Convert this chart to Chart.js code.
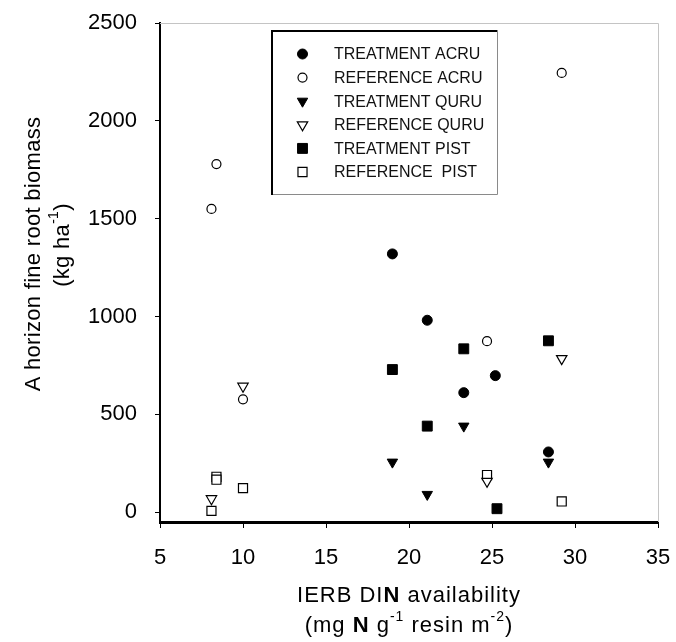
<!DOCTYPE html>
<html>
<head>
<meta charset="utf-8">
<script src="https://cdn.jsdelivr.net/npm/chart.js@4"></script>
<style>
  html, body { margin: 0; padding: 0; background: #fff; }
  #wrap { width: 676px; height: 642px; }
</style>
</head>
<body>
<div id="wrap"><canvas id="c" width="676" height="642"></canvas></div>
<script>
// ---- data: IERB DIN availability (x) vs A horizon fine root biomass (y) ----
const seriesLabels = [
  'TREATMENT ACRU', 'REFERENCE ACRU',
  'TREATMENT QURU', 'REFERENCE QURU',
  'TREATMENT PIST', 'REFERENCE  PIST'
];
const treatmentAcruX = [19.0, 21.1, 23.3, 25.2, 28.4];
const treatmentAcruY = [1320, 981, 611, 698, 308];
const referenceAcruX = [8.1, 8.4, 10.0, 24.7, 29.2];
const referenceAcruY = [1550, 1779, 577, 874, 2245];
const treatmentQuruX = [19.0, 21.1, 23.3, 28.4];
const treatmentQuruY = [256, 91, 440, 256];
const referenceQuruX = [8.1, 10.0, 24.7, 29.2];
const referenceQuruY = [69, 644, 158, 785];
const treatmentPistX = [19.0, 21.1, 23.3, 25.3, 28.4];
const treatmentPistY = [729, 440, 835, 18, 876];
const referencePistX = [8.1, 8.4, 8.4, 10.0, 24.7, 29.2];
const referencePistY = [7, 181, 166, 123, 190, 55];

const xTickValues = [5, 10, 15, 20, 25, 30, 35];
const yTickValues = [0, 500, 1000, 1500, 2000, 2500];

const FONT = 'Arial, "Liberation Sans", sans-serif';

function toPoints(xs, ys) { return xs.map((x, i) => ({ x: x, y: ys[i] })); }

// marker styles per series
const markerStyles = [
  { pointStyle: 'circle',   radius: 5,   rotation: 0,   fill: '#000', stroke: '#000', borderWidth: 1 },
  { pointStyle: 'circle',   radius: 4.5, rotation: 0,   fill: '#fff', stroke: '#000', borderWidth: 1.2 },
  { pointStyle: 'triangle', radius: 6,   rotation: 180, fill: '#000', stroke: '#000', borderWidth: 1 },
  { pointStyle: 'triangle', radius: 6,   rotation: 180, fill: '#fff', stroke: '#000', borderWidth: 1.2 },
  { pointStyle: 'rect',     radius: 7,   rotation: 0,   fill: '#000', stroke: '#000', borderWidth: 1 },
  { pointStyle: 'rect',     radius: 6.4, rotation: 0,   fill: '#fff', stroke: '#000', borderWidth: 1.2 }
];

const seriesData = [
  toPoints(treatmentAcruX, treatmentAcruY),
  toPoints(referenceAcruX, referenceAcruY),
  toPoints(treatmentQuruX, treatmentQuruY),
  toPoints(referenceQuruX, referenceQuruY),
  toPoints(treatmentPistX, treatmentPistY),
  toPoints(referencePistX, referencePistY)
];

const datasets = seriesData.map((d, i) => ({
  label: seriesLabels[i],
  data: d,
  showLine: false,
  pointStyle: markerStyles[i].pointStyle,
  pointRadius: markerStyles[i].radius,
  pointRotation: markerStyles[i].rotation,
  pointBackgroundColor: markerStyles[i].fill,
  pointBorderColor: markerStyles[i].stroke,
  pointBorderWidth: markerStyles[i].borderWidth,
  pointHoverRadius: markerStyles[i].radius
}));

// draw one marker shape (used for the legend box)
function drawMarker(ctx, m, x, y) {
  ctx.save();
  ctx.beginPath();
  const r = m.radius;
  if (m.pointStyle === 'circle') {
    ctx.arc(x, y, r, 0, Math.PI * 2);
  } else if (m.pointStyle === 'rect') {
    const s = Math.SQRT1_2 * r;
    ctx.rect(x - s, y - s, 2 * s, 2 * s);
  } else if (m.pointStyle === 'triangle') {
    let rad = m.rotation * Math.PI / 180;
    ctx.moveTo(x + Math.sin(rad) * r, y - Math.cos(rad) * r);
    rad += 2 * Math.PI / 3;
    ctx.lineTo(x + Math.sin(rad) * r, y - Math.cos(rad) * r);
    rad += 2 * Math.PI / 3;
    ctx.lineTo(x + Math.sin(rad) * r, y - Math.cos(rad) * r);
    ctx.closePath();
  }
  ctx.fillStyle = m.fill;
  ctx.strokeStyle = m.stroke;
  ctx.lineWidth = m.borderWidth;
  ctx.fill();
  ctx.stroke();
  ctx.restore();
}

// text made of runs (normal / bold / superscript), centred on (cx, cy)
function drawRuns(ctx, runs, cx, cy, size, spacing) {
  const fontFor = r => (r.bold ? 'bold ' : '') + (r.sup ? Math.round(size * 0.62) : size) + 'px ' + FONT;
  ctx.letterSpacing = (spacing || 0) + 'px';
  let total = 0;
  runs.forEach(r => { ctx.font = fontFor(r); r.w = ctx.measureText(r.t).width; total += r.w; });
  let x = cx - total / 2;
  ctx.textBaseline = 'middle';
  ctx.textAlign = 'left';
  runs.forEach(r => {
    ctx.font = fontFor(r);
    ctx.fillText(r.t, x, cy + (r.sup ? -size * 0.38 : 0));
    x += r.w;
  });
  ctx.letterSpacing = '0px';
}

const framePlugin = {
  id: 'frame',
  beforeDatasetsDraw(chart) {
    const a = chart.chartArea, ctx = chart.ctx;
    ctx.save();
    ctx.strokeStyle = '#c4c4c4';
    ctx.lineWidth = 1;
    ctx.beginPath();
    ctx.moveTo(a.left, a.top + 0.5);
    ctx.lineTo(a.right + 0.5, a.top + 0.5);
    ctx.lineTo(a.right + 0.5, a.bottom);
    ctx.stroke();
    ctx.restore();
  }
};

const titlesPlugin = {
  id: 'axisTitles',
  afterDraw(chart) {
    const ctx = chart.ctx;
    ctx.save();
    ctx.fillStyle = '#000';
    const cx = (chart.chartArea.left + chart.chartArea.right) / 2;
    drawRuns(ctx, [{ t: 'IERB DI' }, { t: 'N', bold: true }, { t: ' availability' }], cx, 596, 22, 1);
    drawRuns(ctx, [{ t: '(mg ' }, { t: 'N', bold: true }, { t: ' g' }, { t: '-1', sup: true },
                   { t: ' resin m' }, { t: '-2', sup: true }, { t: ')' }], cx, 626, 22, 1);
    ctx.save();
    ctx.translate(34, 254);
    ctx.rotate(-Math.PI / 2);
    drawRuns(ctx, [{ t: 'A horizon fine root biomass' }], 0, 0, 22, 0.3);
    ctx.restore();
    ctx.save();
    ctx.translate(63, 245);
    ctx.rotate(-Math.PI / 2);
    drawRuns(ctx, [{ t: '(kg ha' }, { t: '-1', sup: true }, { t: ')' }], 0, 0, 22, 0.3);
    ctx.restore();
    ctx.restore();
  }
};

const legendPlugin = {
  id: 'boxLegend',
  afterDraw(chart) {
    const ctx = chart.ctx;
    const L = 271, T = 30, R = 497, B = 194;
    ctx.save();
    ctx.fillStyle = '#fff';
    ctx.fillRect(L, T, R - L, B - T);
    ctx.lineWidth = 1;
    ctx.strokeStyle = '#8a8a8a';
    ctx.beginPath();
    ctx.moveTo(R + 0.5, T); ctx.lineTo(R + 0.5, B + 0.5); ctx.lineTo(L, B + 0.5);
    ctx.stroke();
    ctx.strokeStyle = '#000';
    ctx.lineWidth = 2;
    ctx.beginPath();
    ctx.moveTo(L + 1, B + 1); ctx.lineTo(L + 1, T + 1); ctx.lineTo(R, T + 1);
    ctx.stroke();
    ctx.font = '16px ' + FONT;
    ctx.textBaseline = 'middle';
    ctx.textAlign = 'left';
    seriesLabels.forEach((lab, i) => {
      const y = 54 + i * 23.6;
      drawMarker(ctx, markerStyles[i], 302.5, y);
      ctx.fillStyle = '#111';
      ctx.fillText(lab, 334, y + 1);
    });
    ctx.restore();
  }
};

new Chart(document.getElementById('c'), {
  type: 'scatter',
  data: { datasets: datasets },
  options: {
    responsive: false,
    animation: false,
    devicePixelRatio: 1,
    layout: { padding: { top: 23, right: 18, left: 0, bottom: 0 } },
    plugins: { legend: { display: false }, tooltip: { enabled: false } },
    scales: {
      x: {
        type: 'linear', min: 5, max: 35,
        afterBuildTicks: s => { s.ticks = xTickValues.map(v => ({ value: v })); },
        afterFit: s => { s.height = 120; s.paddingLeft = 0; s.paddingRight = 0; },
        grid: { drawOnChartArea: false, drawTicks: true, tickLength: 6, tickColor: '#000', tickWidth: 1 },
        border: { display: true, color: '#000', width: 3 },
        ticks: { color: '#000', font: { size: 22, family: FONT }, padding: 17, maxRotation: 0,
                 callback: v => String(v) }
      },
      y: {
        type: 'linear', min: -50, max: 2500,
        afterBuildTicks: s => { s.ticks = yTickValues.map(v => ({ value: v })); },
        afterFit: s => { s.width = 160; s.paddingTop = 0; s.paddingBottom = 0; },
        grid: { drawOnChartArea: false, drawTicks: true, tickLength: 5, tickColor: '#000', tickWidth: 1 },
        border: { display: true, color: '#000', width: 2 },
        ticks: { color: '#000', font: { size: 22, family: FONT }, padding: 18,
                 callback: v => String(v) }
      }
    }
  },
  plugins: [framePlugin, titlesPlugin, legendPlugin]
});
</script>
</body>
</html>
